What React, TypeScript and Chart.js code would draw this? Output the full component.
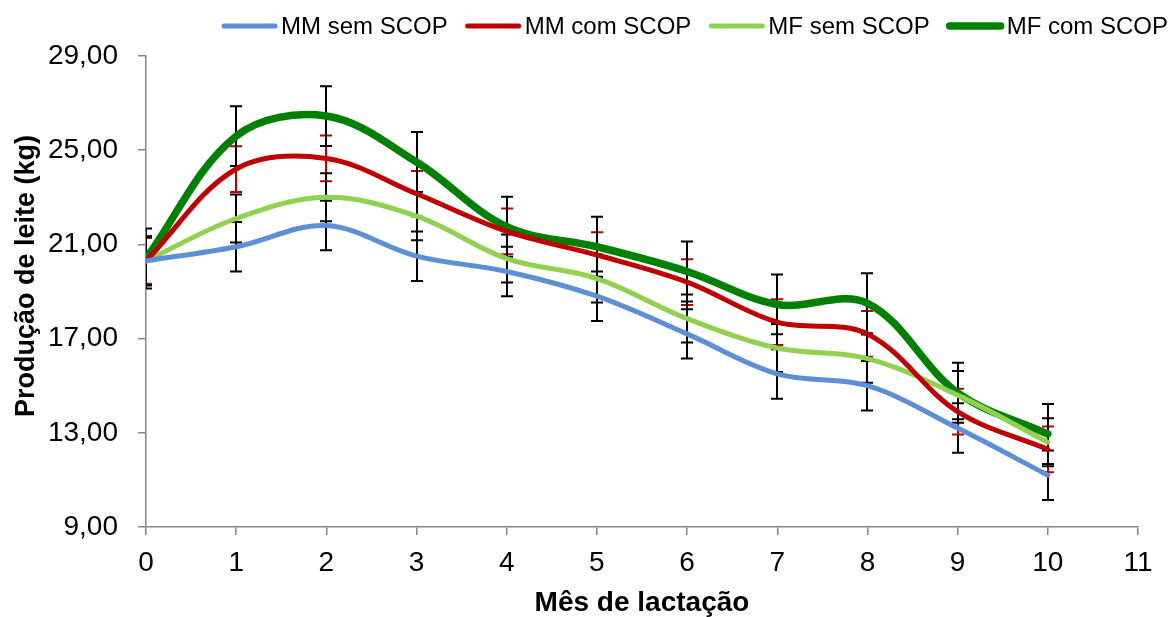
import React, { useEffect, useRef } from 'react';
import { Chart, registerables } from 'chart.js';

Chart.register(...registerables);

// ---- Data ----
const months = [0, 1, 2, 3, 4, 5, 6, 7, 8, 9, 10];
const seriesNames = ['MM sem SCOP', 'MM com SCOP', 'MF sem SCOP', 'MF com SCOP'];
const mmSemScop = [20.3, 20.9, 21.8, 20.5, 19.85, 18.8, 17.2, 15.5, 15.0, 13.2, 11.2];
const mmComScop = [20.3, 24.2, 24.65, 23.15, 21.55, 20.55, 19.4, 17.7, 17.2, 13.9, 12.3];
const mfSemScop = [20.3, 22.1, 23.0, 22.2, 20.4, 19.55, 17.85, 16.6, 16.15, 14.6, 12.6];
const mfComScop = [20.4, 25.6, 26.45, 24.5, 21.75, 20.9, 19.85, 18.45, 18.5, 14.7, 12.95];
const errMmSem = [1.05, 1.05, 1.05, 1.05, 1.05, 1.05, 1.05, 1.05, 1.05, 1.05, 1.05];
const errMmCom = [0.97, 0.97, 0.97, 0.97, 0.97, 0.97, 0.97, 0.97, 0.97, 0.97, 0.97];
const errMfSem = [1.02, 1.02, 1.02, 1.02, 1.02, 1.02, 1.02, 1.02, 1.02, 1.02, 1.02];
const errMfCom = [1.27, 1.27, 1.27, 1.27, 1.27, 1.27, 1.27, 1.27, 1.27, 1.27, 1.27];
const yTickValues = [9, 13, 17, 21, 25, 29];
const xTickValues = [0, 1, 2, 3, 4, 5, 6, 7, 8, 9, 10, 11];
const xTitle = 'Mês de lactação';
const yTitle = 'Produção de leite (kg)';

const FONT = "'Liberation Sans', Arial, sans-serif";
const colors = ['#5B8FD6', '#C00000', '#92D050', '#008000'];
const widths = [5, 5, 5, 7.5];
const errColors = ['#000000', '#C00000', '#000000', '#000000'];
const values = [mmSemScop, mmComScop, mfSemScop, mfComScop];
const errors = [errMmSem, errMmCom, errMfSem, errMfCom];

const errorBarPlugin = {
  id: 'errorBars',
  beforeDatasetsDraw(chart: any) {
    const ctx = chart.ctx;
    const xs = chart.scales.x;
    const ys = chart.scales.y;
    const ca = chart.chartArea;
    ctx.save();
    ctx.beginPath();
    ctx.rect(ca.left, ca.top - 20, ca.right - ca.left, ca.bottom - ca.top + 20);
    ctx.clip();
    chart.data.datasets.forEach((ds: any) => {
      const errs = ds.errors;
      if (!errs) return;
      ctx.strokeStyle = ds.errorColor;
      ctx.lineWidth = 2;
      ds.data.forEach((p: any, i: number) => {
        const px = Math.round(xs.getPixelForValue(p.x));
        const top = ys.getPixelForValue(p.y + errs[i]);
        const bot = ys.getPixelForValue(p.y - errs[i]);
        ctx.beginPath();
        ctx.moveTo(px, top);
        ctx.lineTo(px, bot);
        ctx.moveTo(px - 6, top);
        ctx.lineTo(px + 6, top);
        ctx.moveTo(px - 6, bot);
        ctx.lineTo(px + 6, bot);
        ctx.stroke();
      });
    });
    ctx.restore();
  },
};

const legendTitlesPlugin = {
  id: 'legendTitles',
  afterDraw(chart: any) {
    const ctx = chart.ctx;
    ctx.save();
    // legend
    ctx.font = `24px ${FONT}`;
    ctx.textBaseline = 'middle';
    ctx.textAlign = 'left';
    let x0 = 222;
    const ly = 26;
    chart.data.datasets.forEach((ds: any) => {
      ctx.strokeStyle = ds.borderColor;
      ctx.lineWidth = ds.borderWidth;
      ctx.lineCap = 'round';
      ctx.beginPath();
      ctx.moveTo(x0 + 2, ly);
      ctx.lineTo(x0 + 53, ly);
      ctx.stroke();
      ctx.fillStyle = '#000';
      ctx.fillText(ds.label, x0 + 59, ly + 1);
      const w = ctx.measureText(ds.label).width;
      x0 = x0 + 59 + w + 18;
    });
    // axis titles
    ctx.font = `bold 28px ${FONT}`;
    ctx.textAlign = 'center';
    ctx.fillStyle = '#000';
    const ca = chart.chartArea;
    ctx.fillText(xTitle, (ca.left + ca.right) / 2, 603);
    ctx.font = `bold 27px ${FONT}`;
    ctx.translate(27, 276);
    ctx.rotate(-Math.PI / 2);
    ctx.fillText(yTitle, 0, 0);
    ctx.restore();
  },
};

export default function App() {
  const ref = useRef<HTMLCanvasElement | null>(null);
  useEffect(() => {
    if (!ref.current) return;
    const datasets = seriesNames.map((name, k) => ({
      label: name,
      data: months.map((m, i) => ({ x: m, y: values[k][i] })),
      borderColor: colors[k],
      backgroundColor: colors[k],
      borderWidth: widths[k],
      pointRadius: 0,
      tension: 0.35,
      fill: false,
      errors: errors[k],
      errorColor: errColors[k],
      borderCapStyle: 'round',
      borderJoinStyle: 'round',
    }));
    const axisColor = '#868686';
    const chart = new Chart(ref.current, {
      type: 'line',
      data: { datasets: datasets as any },
      options: {
        animation: false,
        responsive: false,
        layout: { padding: { top: 56, right: 34, left: 0, bottom: 0 } },
        plugins: { legend: { display: false }, tooltip: { enabled: false } },
        scales: {
          x: {
            type: 'linear',
            min: 0,
            max: 11,
            afterBuildTicks: (s: any) => {
              s.ticks = xTickValues.map((v) => ({ value: v }));
            },
            afterFit: (s: any) => {
              s.height = 90;
            },
            ticks: {
              font: { family: FONT, size: 28 },
              color: '#000',
              padding: 11,
              callback: (v: any) => String(v),
            },
            grid: { drawOnChartArea: false, tickLength: 8, color: axisColor, lineWidth: 1.5 },
            border: { color: axisColor, width: 1.5 },
          },
          y: {
            type: 'linear',
            min: 9,
            max: 29,
            afterBuildTicks: (s: any) => {
              s.ticks = yTickValues.map((v) => ({ value: v }));
            },
            afterFit: (s: any) => {
              s.width = 146;
            },
            ticks: {
              font: { family: FONT, size: 28 },
              color: '#000',
              padding: 20,
              callback: (v: any) => Number(v).toFixed(2).replace('.', ','),
            },
            grid: { drawOnChartArea: false, tickLength: 8, color: axisColor, lineWidth: 1.5 },
            border: { color: axisColor, width: 1.5 },
          },
        },
      },
      plugins: [errorBarPlugin, legendTitlesPlugin],
    });
    return () => chart.destroy();
  }, []);
  return (
    <div style={{ position: 'fixed', left: 0, top: 0, width: 1172, height: 617, background: '#fff' }}>
      <canvas ref={ref} width={1172} height={617} />
    </div>
  );
}
